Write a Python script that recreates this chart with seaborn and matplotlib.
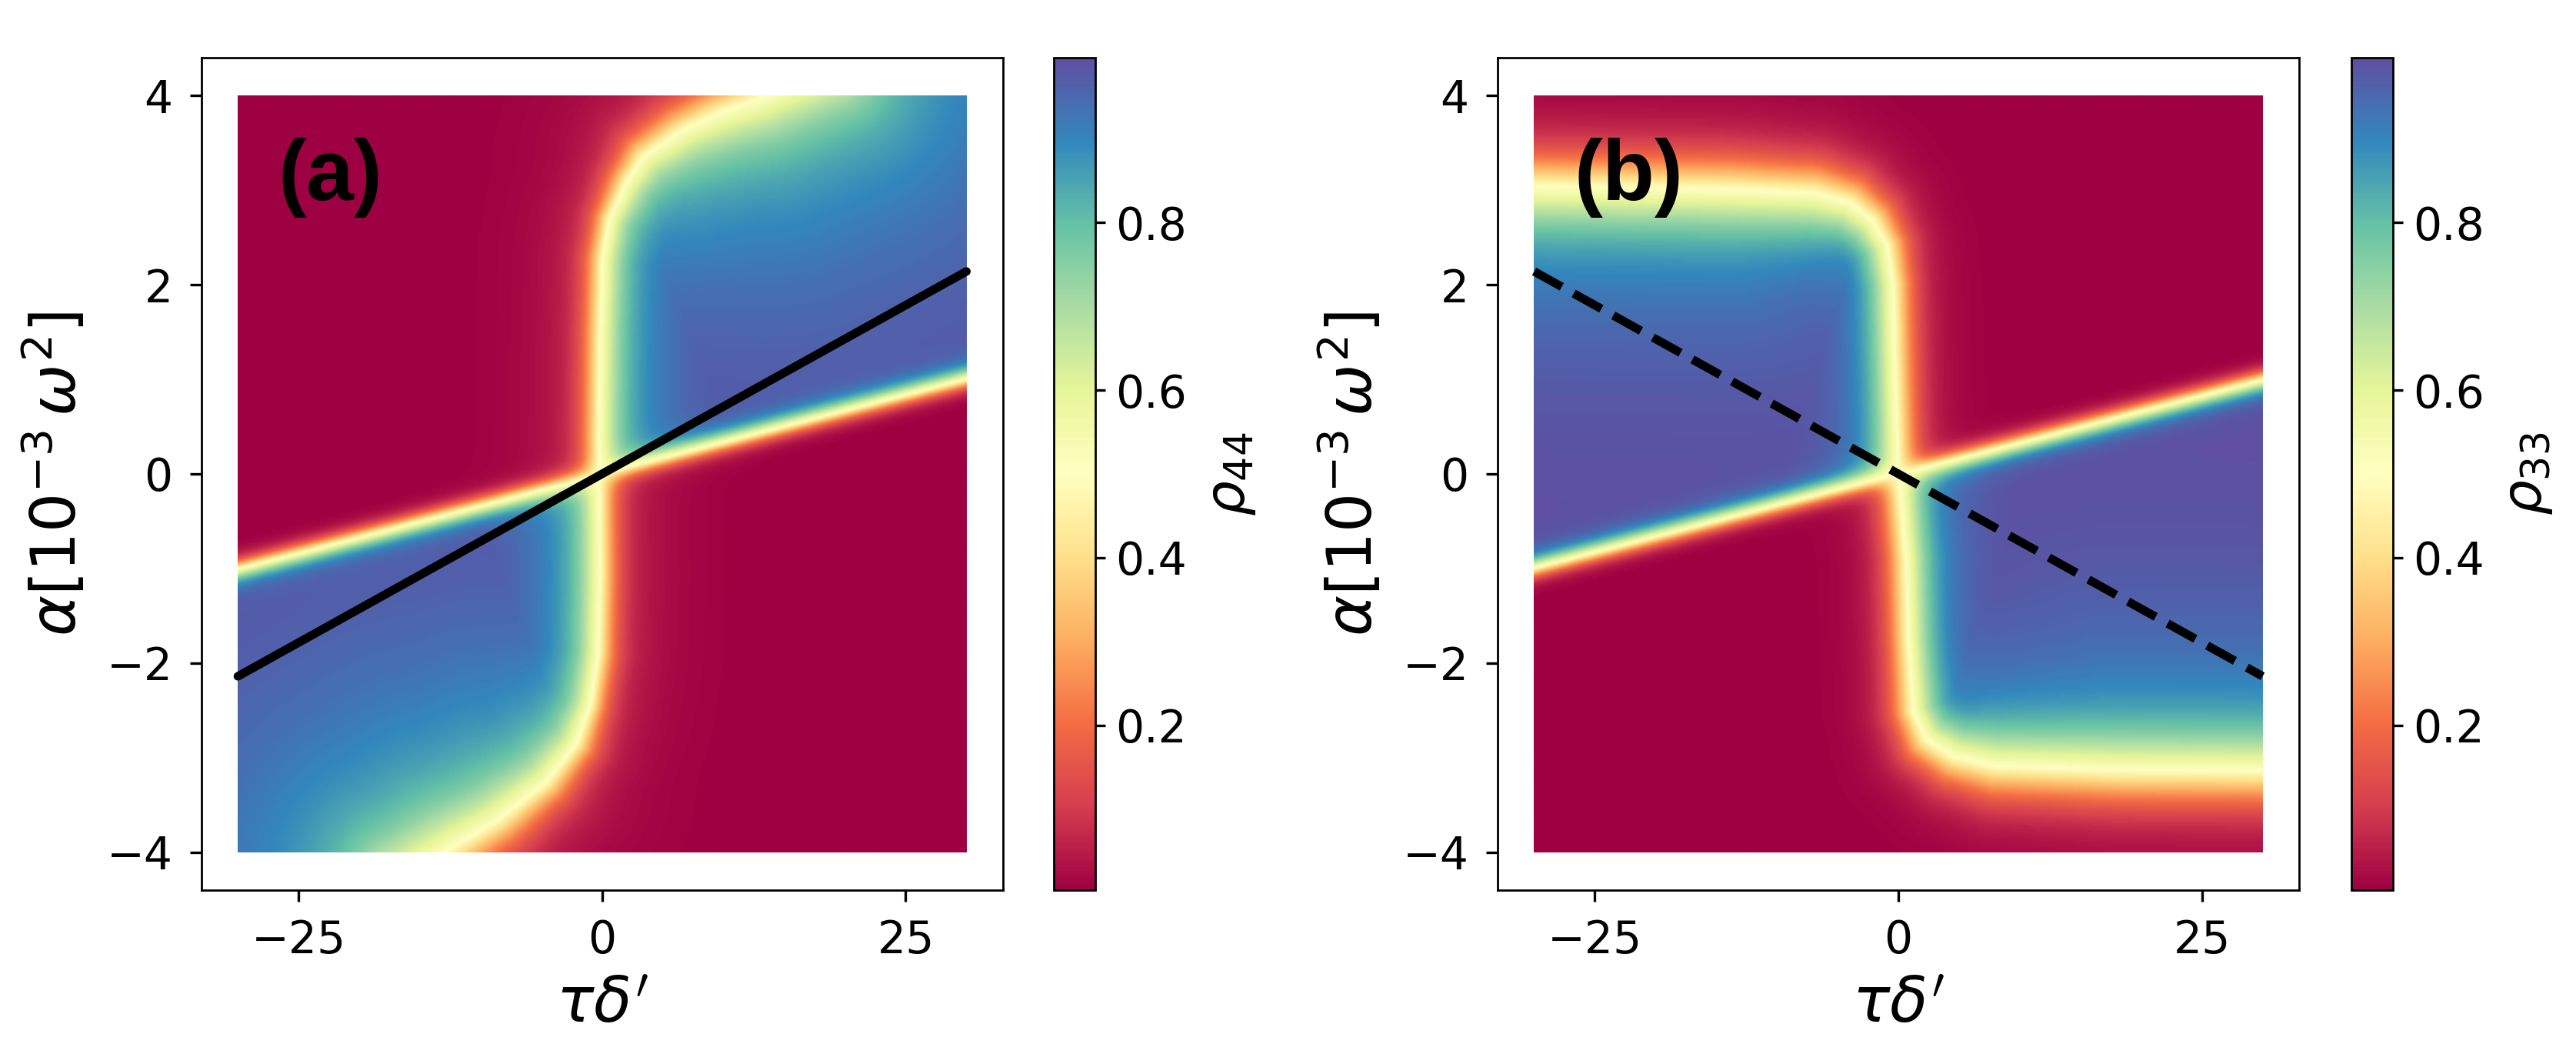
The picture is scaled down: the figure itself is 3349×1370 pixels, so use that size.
"""
plot.py

Two population maps (rho_44 and rho_33) over detuning and chirp.
"""

import matplotlib
matplotlib.use("Agg")

import matplotlib.pyplot as plt
import numpy as np
import seaborn as sns

sns.set_theme(style="ticks")
plt.rcParams["font.family"] = ["DejaVu Sans"]
plt.rcParams["mathtext.fontset"] = "dejavusans"
for key in ["text.color", "axes.labelcolor", "xtick.color", "ytick.color",
            "axes.edgecolor"]:
    plt.rcParams[key] = "black"

# --------------------------------
# values

x_range = [-30.0, 30.0]          # tau delta'
y_range = [-4.0, 4.0]            # alpha [1e-3 omega^2]

# thin crossing line (centre of narrow transition)
thin_x = [-30.0, 30.0]
thin_y = [-1.0, 1.0]

# panel (a): broad boundary, top to bottom
a_curve_x = [18.8, 13.3, 9.5, 6.5, 3.4, 2.0, 0.56, 0.0, -0.2, -0.3, -0.2,
             -0.15, -0.3, -0.96, -2.1, -4.6, -8.6, -13.1, -16.7]
a_curve_y = [4.3, 4.0, 3.82, 3.64, 3.37, 3.1, 2.7, 2.29, 1.48, 0.4, -0.3,
             -1.1, -1.91, -2.45, -2.86, -3.27, -3.67, -4.02, -4.3]
a_width = [0.2, 0.2, 0.18, 0.16, 0.14, 0.12, 0.1, 0.1, 0.1, 0.1, 0.1,
           0.1, 0.1, 0.1, 0.12, 0.14, 0.17, 0.2, 0.2]
a_blue_tail = [1.3, 1.3, 1.2, 1.1, 0.9, 0.7, 0.6, 0.5, 0.5, 0.5, 0.5,
               0.5, 0.5, 0.6, 0.8, 1.0, 1.2, 1.3, 1.3]
a_red_tail = [0.8, 0.8, 0.7, 0.7, 0.6, 0.5, 0.5, 0.5, 0.5, 0.5, 0.5,
              0.5, 0.5, 0.5, 0.5, 0.6, 0.7, 0.8, 0.8]

# panel (b): broad boundary, left to right
b_curve_x = [-36.0, -30.0, -13.8, -6.9, -4.0, -2.1, -0.9, -0.4, -0.25, 0.0,
             0.6, 0.8, 1.2, 2.3, 4.6, 8.0, 17.9, 30.0, 36.0]
b_curve_y = [3.06, 3.05, 3.02, 2.98, 2.88, 2.69, 2.42, 2.01, 1.2, 0.0,
             -0.9, -1.77, -2.52, -2.82, -3.0, -3.1, -3.14, -3.15, -3.15]
b_width = [0.2, 0.2, 0.2, 0.19, 0.17, 0.15, 0.13, 0.12, 0.12, 0.12,
           0.12, 0.12, 0.13, 0.15, 0.17, 0.19, 0.2, 0.2, 0.2]
b_blue_tail = [0.9, 0.9, 0.9, 0.75, 0.6, 0.5, 0.4, 0.37, 0.37, 0.37,
               0.37, 0.37, 0.4, 0.5, 0.6, 0.75, 0.9, 0.9, 0.9]
b_red_tail = [0.5, 0.5, 0.5, 0.45, 0.4, 0.37, 0.35, 0.35, 0.35, 0.35,
              0.35, 0.35, 0.35, 0.37, 0.4, 0.45, 0.5, 0.5, 0.5]

# overlay lines
line_x = [-30.0, 30.0]
a_line_y = [-2.14, 2.14]
b_line_y = [2.14, -2.14]

colorbar_ticks = [0.2, 0.4, 0.6, 0.8]
xticks = [-25, 0, 25]
yticks = [-4, -2, 0, 2, 4]


# --------------------------------

def sigmoid(z):
    return 1.0 / (1.0 + np.exp(-np.clip(z, -60, 60)))


def curve_fields(X, Y, cx, cy, width, blue_tail, red_tail, xscale=7.7):
    """signed distance to a polyline and smoothly blended curve params"""
    U = (X / xscale)[None]
    Yg = Y[None]
    cu = np.asarray(cx) / xscale
    cv = np.asarray(cy)

    ax_ = cu[:-1, None, None]
    ay_ = cv[:-1, None, None]
    tx = (cu[1:] - cu[:-1])[:, None, None]
    ty = (cv[1:] - cv[:-1])[:, None, None]

    t = np.clip(((U - ax_) * tx + (Yg - ay_) * ty) / (tx * tx + ty * ty), 0, 1)
    d = np.hypot(U - (ax_ + t * tx), Yg - (ay_ + t * ty))
    cz = tx * (Yg - ay_) - ty * (U - ax_)

    idx = np.argmin(d, axis=0)[None]
    best = np.take_along_axis(d, idx, axis=0)[0]
    sign = np.where(np.take_along_axis(cz, idx, axis=0)[0] >= 0, 1.0, -1.0)

    def along(p):
        p = np.asarray(p, dtype=float)
        return p[:-1, None, None] + (p[1:] - p[:-1])[:, None, None] * t

    soft = np.exp(-(d - best[None]) / 0.08)
    w = (soft * along(width)).sum(axis=0) / soft.sum(axis=0)

    tb = np.exp(-d / along(blue_tail)).max(axis=0)
    tr = np.exp(-d / along(red_tail)).max(axis=0)

    return sign * best, w, tb, tr


def population(X, Y, cx, cy, width, blue_tail, red_tail, flip, blue_amp):

    slope = (thin_y[1] - thin_y[0]) / (thin_x[1] - thin_x[0])
    dt = Y - (thin_y[0] + slope * (X - thin_x[0]))
    p = sigmoid(dt / 0.06)

    sd, w, tb, tr = curve_fields(X, Y, cx, cy, width, blue_tail, red_tail)
    q = sigmoid(sd / w)
    if flip:
        q = 1 - q

    rho0 = p * q + (1 - p) * (1 - q)

    keep = (1 - blue_amp * tb) * (1 - 0.25 * np.exp(-np.abs(dt) / 0.1))
    gain = 0.1 * tr

    bw = np.clip(2 * rho0 - 1, 0, 1)
    rw = np.clip(1 - 2 * rho0, 0, 1)

    return np.clip(rho0 - (1 - keep) * bw + gain * rw, 0.003, 0.997)


xs = np.linspace(x_range[0], x_range[1], 481)
ys = np.linspace(y_range[0], y_range[1], 401)
X, Y = np.meshgrid(xs, ys)

rho44 = population(X, Y, a_curve_x, a_curve_y, a_width, a_blue_tail,
                   a_red_tail, flip=False, blue_amp=0.3)
rho33 = population(X, Y, b_curve_x, b_curve_y, b_width, b_blue_tail,
                   b_red_tail, flip=True, blue_amp=0.26)

# --------------------------------

cmap = sns.color_palette("Spectral", as_cmap=True)

fig = plt.figure(figsize=(16.745, 6.85), dpi=200)

panels = [
    (rho44, a_line_y, "-", "(a)", r"$\rho_{44}$", 0.0782, 0.4091),
    (rho33, b_line_y, "--", "(b)", r"$\rho_{33}$", 0.5814, 0.9128),
]

for rho, line_y, ls, tag, clabel, left, cleft in panels:

    ax = fig.add_axes([left, 0.1555, 0.3111, 0.7898])

    im = ax.imshow(rho, extent=(x_range[0], x_range[1], y_range[0], y_range[1]),
                   origin="lower", aspect="auto", cmap=cmap,
                   vmin=0.003, vmax=0.997, interpolation="bilinear")

    ax.plot(line_x, line_y, color="black", lw=4, ls=ls)

    ax.set_xlim(-33, 33)
    ax.set_ylim(-4.4, 4.4)
    ax.set_xticks(xticks)
    ax.set_yticks(yticks)
    ax.tick_params(labelsize=21, length=5.5, width=1.2, pad=8, color="black")
    for s in ax.spines.values():
        s.set_linewidth(1.0)
        s.set_color("black")

    ax.set_xlabel(r"$\tau\delta'$", fontsize=29, labelpad=6)
    ax.set_ylabel(r"$\alpha[10^{-3}\,\omega^2]$", fontsize=29, labelpad=8)

    ax.text(-26.7, 3.55, tag, fontsize=40, fontweight="bold", color="black",
            family=["Liberation Sans", "DejaVu Sans"], ha="left", va="top")

    cax = fig.add_axes([cleft, 0.1555, 0.0160, 0.7898])
    cb = fig.colorbar(im, cax=cax)
    cb.set_ticks(colorbar_ticks)
    cb.ax.tick_params(labelsize=21, length=4.7, width=1.2, pad=5)
    cb.outline.set_linewidth(1.0)
    cb.set_label(clabel, fontsize=26, labelpad=8)

fig.savefig("out.png", dpi=200)
plt.close(fig)
